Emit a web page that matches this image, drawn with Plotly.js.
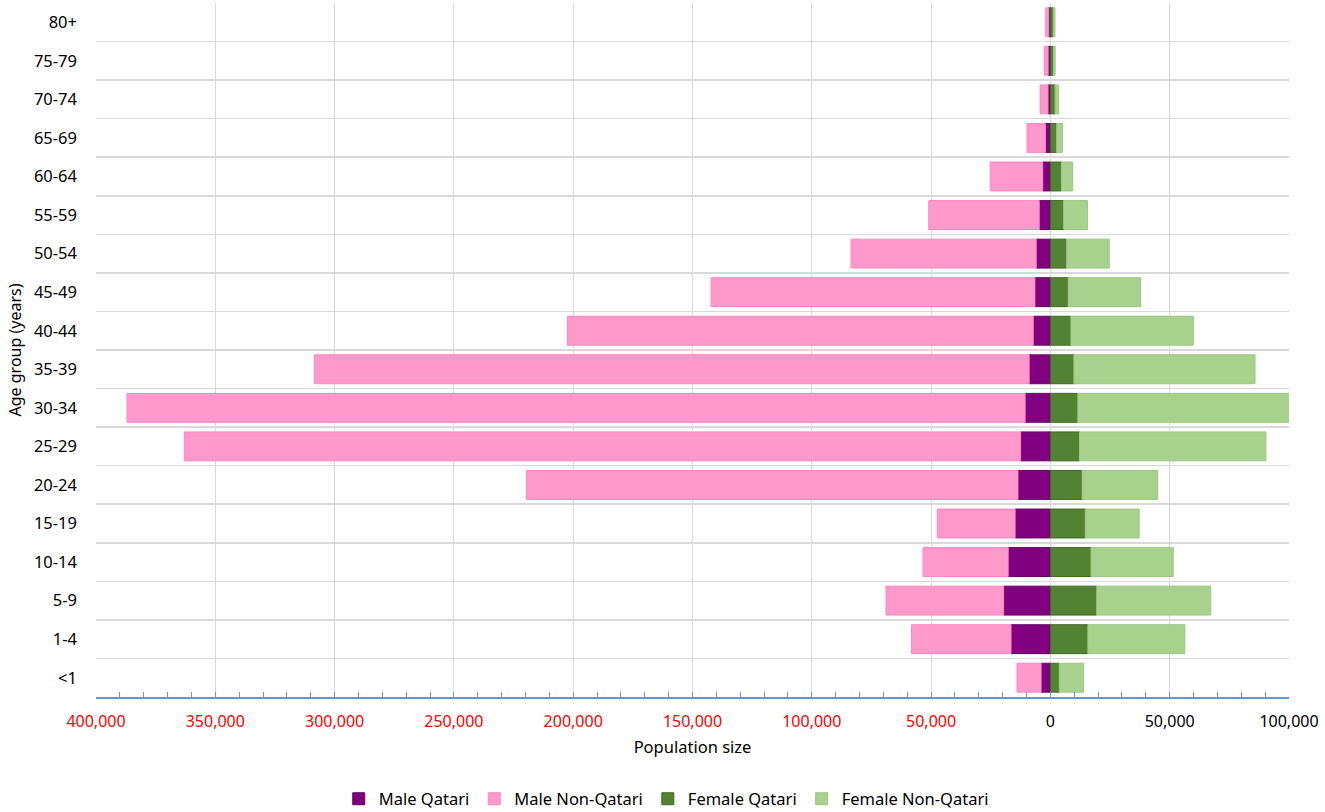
<!DOCTYPE html>
<html>
<head>
<meta charset="utf-8">
<script src="https://cdn.plot.ly/plotly-3.0.1.min.js"></script>
<style>html,body{margin:0;padding:0;background:#fff;}#chart{width:1325px;height:812px;}</style>
</head>
<body>
<div id="chart"></div>
<script>
// Age groups, bottom to top
var ageGroups = ['<1','1-4','5-9','10-14','15-19','20-24','25-29','30-34','35-39','40-44','45-49','50-54','55-59','60-64','65-69','70-74','75-79','80+'];

// Population counts
var maleQatari    = [3900, 16500, 19600, 17700, 14800, 13600, 12500, 10600, 8900, 7200, 6500, 5950, 4700, 3230, 2100, 1000, 960, 710];
var maleNonQatari = [10100, 41700, 49300, 35700, 32600, 206000, 350500, 376400, 299600, 195200, 135700, 77600, 46300, 22000, 7700, 3300, 1550, 1260];
var femaleQatari    = [3700, 15700, 19400, 17000, 14600, 13300, 12200, 11500, 9850, 8600, 7460, 6800, 5530, 4600, 2640, 1970, 1300, 1200];
var femaleNonQatari = [10200, 40650, 47800, 34500, 22600, 31600, 78100, 89500, 75900, 51300, 30300, 17850, 10060, 4740, 2390, 1380, 700, 700];

// Axis tick labels
var xTickVals = [-400000,-350000,-300000,-250000,-200000,-150000,-100000,-50000,0,50000,100000];
var xTickText = ['400,000','350,000','300,000','250,000','200,000','150,000','100,000','50,000','0','50,000','100,000'];

var neg = function(a){ return a.map(function(v){ return -v; }); };
var tickText = xTickVals.map(function(v,i){
  return v < 0 ? '<span style="color:#FF0000">' + xTickText[i] + '</span>' : xTickText[i];
});

var traces = [
  {name:'Male Qatari', x: neg(maleQatari), y: ageGroups, color:'#800080', line:'#6a006a'},
  {name:'Male Non-Qatari', x: neg(maleNonQatari), y: ageGroups, color:'#FF99CC', line:'#FF88C2'},
  {name:'Female Qatari', x: femaleQatari, y: ageGroups, color:'#548235', line:'#3f6a24'},
  {name:'Female Non-Qatari', x: femaleNonQatari, y: ageGroups, color:'#A9D18E', line:'#9cc780'}
].map(function(t){
  return {
    type:'bar', orientation:'h', name:t.name, x:t.x, y:t.y,
    marker:{color:t.color, line:{color:t.line, width:1}},
    hoverinfo:'name+y'
  };
});

var font = 'Noto Sans, Open Sans, sans-serif';

var layout = {
  width:1325, height:812,
  margin:{l:96, r:36, t:3, b:115},
  paper_bgcolor:'#ffffff', plot_bgcolor:'#ffffff',
  barmode:'relative', bargap:0.25,
  font:{family:font, size:16, color:'#000'},
  showlegend:true,
  legend:{orientation:'h', x:0.478, xanchor:'center', yref:'container', y:0.016, yanchor:'middle',
          font:{family:font, size:16.5, color:'#000'}, traceorder:'normal'},
  xaxis:{
    range:[-400000,100000], automargin:false,
    tickmode:'array', tickvals:xTickVals, ticktext:tickText,
    showgrid:true, gridcolor:'#D9D9D9', gridwidth:1,
    zeroline:true, zerolinecolor:'#D9D9D9', zerolinewidth:1,
    showline:true, linecolor:'#5B9BD5', linewidth:1.5,
    ticks:'inside', ticklen:5, tickcolor:'#5B9BD5', tickwidth:1,
    minor:{tick0:0, dtick:10000, ticks:'inside', ticklen:5, tickcolor:'#5B9BD5', tickwidth:1, showgrid:false},
    ticklabelstandoff:9,
    tickfont:{family:font, size:16, color:'#000'},
    title:{text:'Population size', font:{family:font, size:16.5, color:'#000'}, standoff:10},
    fixedrange:true
  },
  yaxis:{
    type:'category', categoryorder:'array', categoryarray:ageGroups, automargin:false,
    tickson:'boundaries', ticks:'',
    showgrid:true, gridcolor:'#D9D9D9', gridwidth:1.5,
    showline:false, zeroline:false,
    ticklabelstandoff:18,
    tickfont:{family:font, size:16.5, color:'#000'},
    title:{text:'Age group (years)', font:{family:font, size:16, color:'#000'}, standoff:8},
    fixedrange:true
  }
};

Plotly.newPlot('chart', traces, layout, {displayModeBar:false, staticPlot:true});
</script>
</body>
</html>
